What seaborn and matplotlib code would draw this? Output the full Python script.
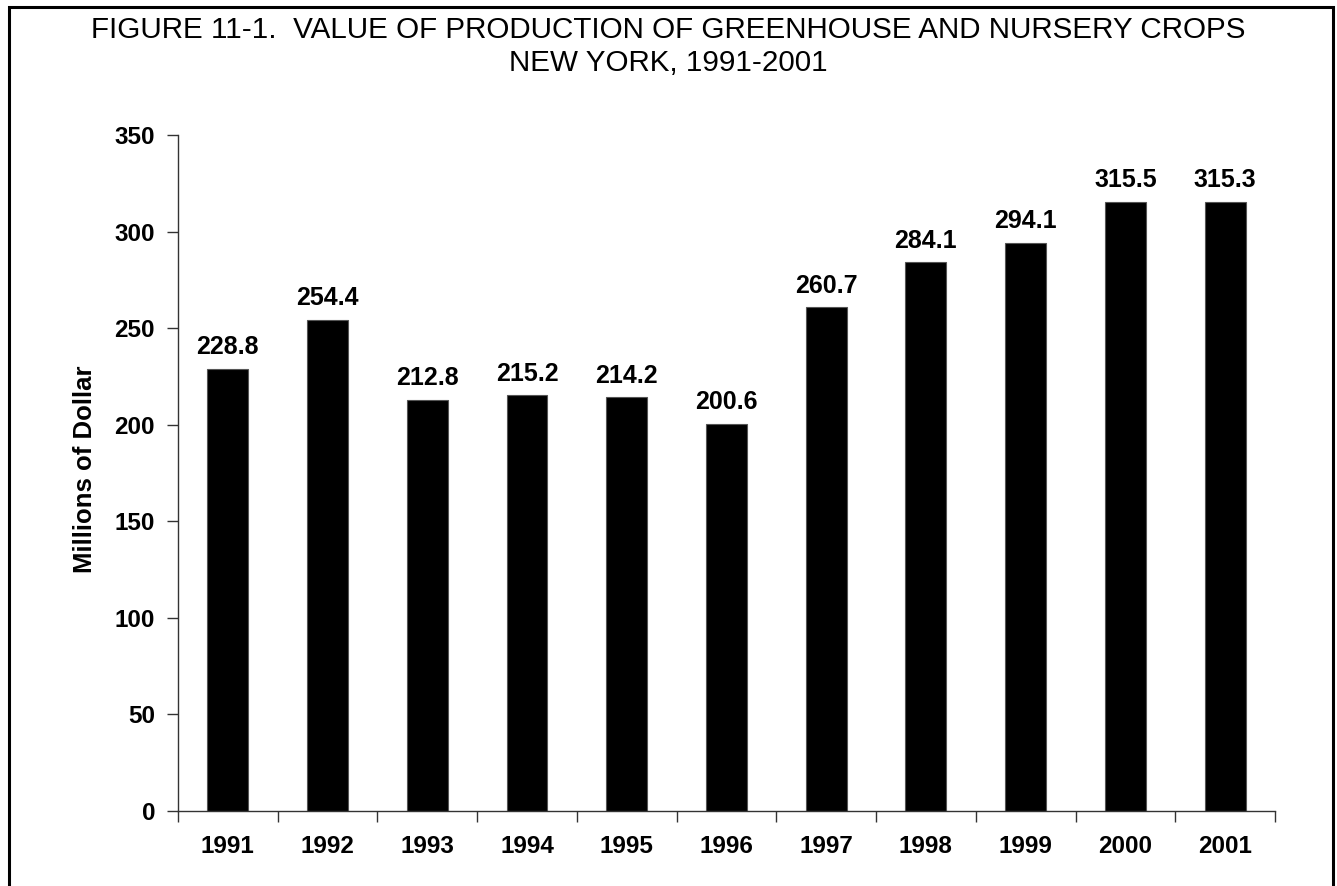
import matplotlib
matplotlib.use("Agg")
import matplotlib.pyplot as plt
import seaborn as sns
import pandas as pd
from matplotlib.patches import Rectangle

# Data
years = ["1991", "1992", "1993", "1994", "1995", "1996",
         "1997", "1998", "1999", "2000", "2001"]
values = [228.8, 254.4, 212.8, 215.2, 214.2, 200.6,
          260.7, 284.1, 294.1, 315.5, 315.3]

df = pd.DataFrame({"Year": years, "Value": values})

sns.set_theme(style="white")
plt.rcParams['font.family'] = ['Liberation Sans', 'DejaVu Sans']
plt.rcParams['text.color'] = 'black'

fig = plt.figure(figsize=(13.37, 8.86), dpi=100)
ax = fig.add_axes([0.1331, 0.0847, 0.8205, 0.7629])

sns.barplot(data=df, x="Year", y="Value", color="black", width=0.41,
            saturation=1, edgecolor="#555555", linewidth=0.8, ax=ax)

for c in ax.containers:
    ax.bar_label(c, labels=[f"{v:.1f}" for v in values], padding=7,
                 fontsize=18, fontweight="bold", color="black")

ax.set_ylim(0, 350)
ax.set_yticks(range(0, 351, 50))
ax.set_xlim(-0.5, len(years) - 0.5)
ax.set_xticks([i - 0.5 for i in range(len(years) + 1)], minor=True)
ax.tick_params(axis="x", which="major", length=0, pad=17)
ax.tick_params(axis="x", which="minor", length=8, width=1, color="#333333",
               direction="out", bottom=True)
ax.tick_params(axis="y", length=8, width=1, color="#333333",
               direction="out", left=True, pad=8.5)
for lab in ax.get_xticklabels() + ax.get_yticklabels():
    lab.set_fontsize(17.5)
    lab.set_fontweight("bold")
    lab.set_color("black")

for s in ["top", "right"]:
    ax.spines[s].set_visible(False)
for s in ["left", "bottom"]:
    ax.spines[s].set_color("#333333")
    ax.spines[s].set_linewidth(1)

ax.set_xlabel("")
ax.set_ylabel("Millions of Dollar", fontsize=18.5, fontweight="bold", color="black")
ax.yaxis.set_label_coords(-0.074, 0.505)

fig.text(0.5, 0.966, "FIGURE 11-1.  VALUE OF PRODUCTION OF GREENHOUSE AND NURSERY CROPS",
         ha="center", va="center", fontsize=21.3, color="black")
fig.text(0.5, 0.929, "NEW YORK, 1991-2001", ha="center", va="center",
         fontsize=21.3, color="black")

# frame around the figure
fig.patches.append(Rectangle((9 / 1337, -0.05), (1333 - 9) / 1337, 1.05 - 7 / 886,
                             transform=fig.transFigure, fill=False,
                             edgecolor="black", linewidth=2.2, clip_on=False))

fig.savefig("out.png", dpi=100)
